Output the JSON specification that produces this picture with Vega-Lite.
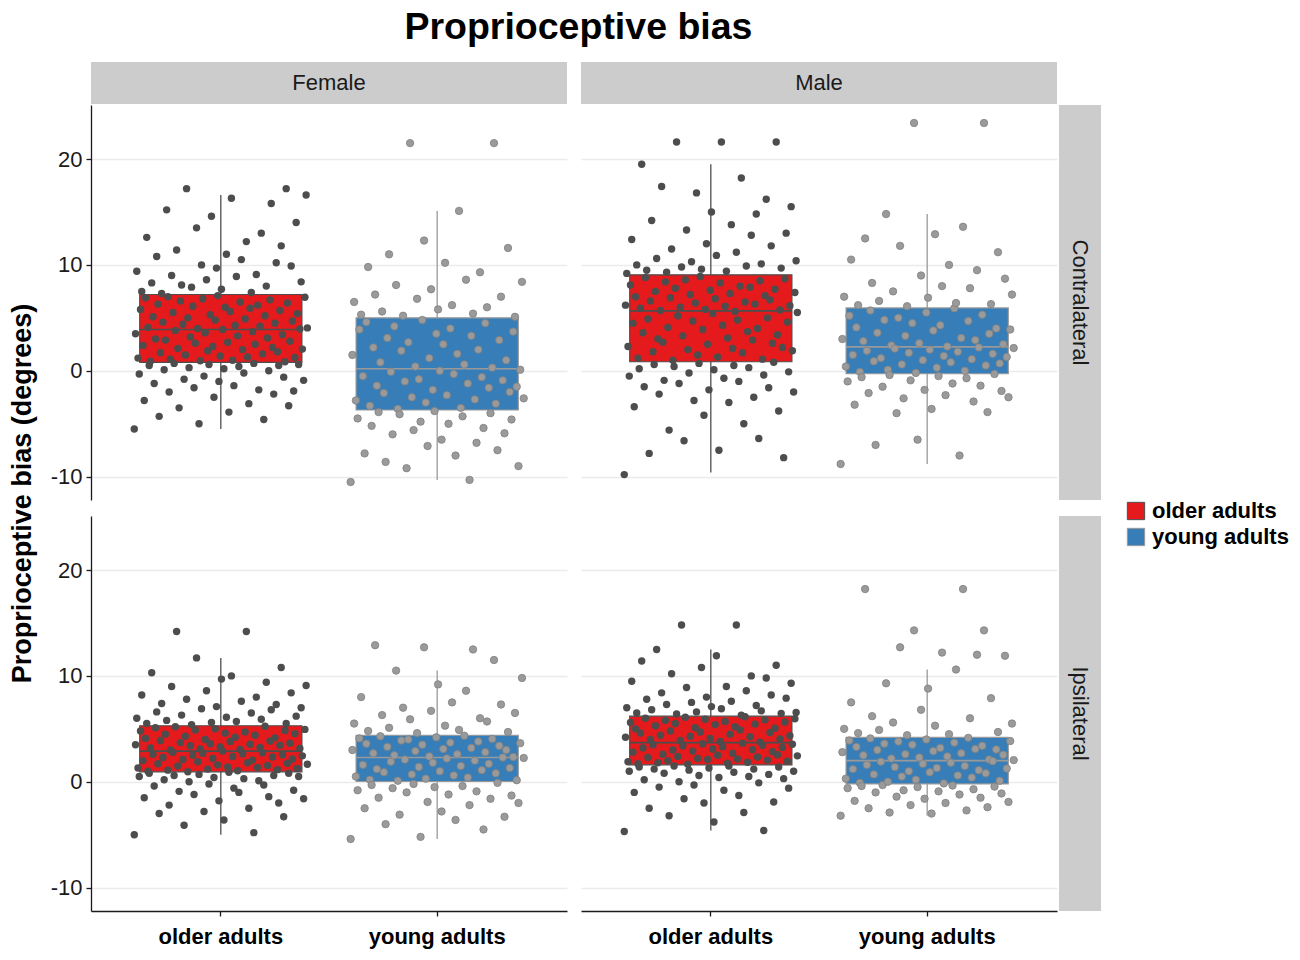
{
  "$schema": "https://vega.github.io/schema/vega-lite/v6.json",
  "description": "Proprioceptive bias by age group, sex and side",
  "background": "white",
  "padding": {"left": 8, "top": 9, "right": 5, "bottom": 5},
  "title": {"text": "Proprioceptive bias", "fontSize": 37.5, "fontWeight": "bold", "color": "#000000", "anchor": "middle", "frame": "bounds", "dx": -70, "offset": 15.5},
  "datasets": {
    "boxes": [
      {"sex": "Female", "side": "Contralateral", "group": "older adults", "lower": -5.5, "q1": 0.8, "median": 3.9, "q3": 7.2, "upper": 16.6},
      {"sex": "Female", "side": "Contralateral", "group": "young adults", "lower": -10.3, "q1": -3.7, "median": 0.2, "q3": 5.0, "upper": 15.1},
      {"sex": "Male", "side": "Contralateral", "group": "older adults", "lower": -9.6, "q1": 0.85, "median": 5.66, "q3": 9.06, "upper": 19.5},
      {"sex": "Male", "side": "Contralateral", "group": "young adults", "lower": -8.8, "q1": -0.28, "median": 2.26, "q3": 5.94, "upper": 14.8},
      {"sex": "Female", "side": "Ipsilateral", "group": "older adults", "lower": -5.0, "q1": 0.94, "median": 2.9, "q3": 5.3, "upper": 11.7},
      {"sex": "Female", "side": "Ipsilateral", "group": "young adults", "lower": -5.4, "q1": 0.03, "median": 2.3, "q3": 4.4, "upper": 10.5},
      {"sex": "Male", "side": "Ipsilateral", "group": "older adults", "lower": -4.6, "q1": 1.6, "median": 3.7, "q3": 6.2, "upper": 12.5},
      {"sex": "Male", "side": "Ipsilateral", "group": "young adults", "lower": -3.2, "q1": -0.2, "median": 2.0, "q3": 4.2, "upper": 10.6}
    ],
    "fc_older": [
      {"bias": -5.5}, {"bias": 3.5}, {"bias": 9.4}, {"bias": 1.2}, {"bias": -0.3}, {"bias": 5.8}, {"bias": 7.5}, {"bias": 2.4},
      {"bias": -2.8}, {"bias": 6.9}, {"bias": 12.6}, {"bias": 4.1}, {"bias": 0.5}, {"bias": 0.9}, {"bias": 8.3}, {"bias": 5.1},
      {"bias": -1.2}, {"bias": 3.0}, {"bias": 10.8}, {"bias": 6.3}, {"bias": -4.3}, {"bias": 1.7}, {"bias": 7.3}, {"bias": 4.6},
      {"bias": 0.1}, {"bias": 2.9}, {"bias": 15.2}, {"bias": 7.0}, {"bias": -2.0}, {"bias": 1.1}, {"bias": 9.0}, {"bias": 5.5},
      {"bias": 0.7}, {"bias": 3.8}, {"bias": 11.4}, {"bias": 2.1}, {"bias": -3.5}, {"bias": 6.6}, {"bias": 8.1}, {"bias": 4.4},
      {"bias": -0.8}, {"bias": 1.5}, {"bias": 17.2}, {"bias": 5.0}, {"bias": 0.3}, {"bias": 3.2}, {"bias": 7.9}, {"bias": 6.1},
      {"bias": -1.6}, {"bias": 2.6}, {"bias": 13.5}, {"bias": 4.0}, {"bias": -5.0}, {"bias": 0.95}, {"bias": 10.0}, {"bias": 6.8},
      {"bias": -0.5}, {"bias": 3.6}, {"bias": 8.6}, {"bias": 1.9}, {"bias": 0.6}, {"bias": 5.3}, {"bias": 14.6}, {"bias": 2.3},
      {"bias": -2.5}, {"bias": 4.8}, {"bias": 9.7}, {"bias": 7.1}, {"bias": -1.0}, {"bias": 1.4}, {"bias": 7.7}, {"bias": 3.9},
      {"bias": 0.2}, {"bias": 6.0}, {"bias": 11.0}, {"bias": 2.7}, {"bias": -3.9}, {"bias": 5.6}, {"bias": 16.3}, {"bias": 1.0},
      {"bias": -1.4}, {"bias": 4.3}, {"bias": 8.9}, {"bias": 3.3}, {"bias": 0.4}, {"bias": 6.5}, {"bias": 10.5}, {"bias": 2.0},
      {"bias": -0.2}, {"bias": 4.9}, {"bias": 12.2}, {"bias": 1.3}, {"bias": -3.1}, {"bias": 5.9}, {"bias": 7.4}, {"bias": 3.7},
      {"bias": 0.7}, {"bias": 2.5}, {"bias": 9.1}, {"bias": 6.2}, {"bias": -1.8}, {"bias": 4.2}, {"bias": 13.0}, {"bias": 1.6},
      {"bias": -4.6}, {"bias": 5.2}, {"bias": 8.0}, {"bias": 3.1}, {"bias": 0.0}, {"bias": 6.7}, {"bias": 15.8}, {"bias": 2.2},
      {"bias": -2.2}, {"bias": 4.5}, {"bias": 10.2}, {"bias": 1.8}, {"bias": 0.5}, {"bias": 5.7}, {"bias": 11.8}, {"bias": 3.4},
      {"bias": -0.6}, {"bias": 0.85}, {"bias": 17.2}, {"bias": 6.4}, {"bias": -3.3}, {"bias": 2.8}, {"bias": 9.9}, {"bias": 4.7},
      {"bias": -1.9}, {"bias": 1.25}, {"bias": 14.0}, {"bias": 5.4}, {"bias": 0.6}, {"bias": 3.95}, {"bias": 8.4}, {"bias": 2.05},
      {"bias": -0.9}, {"bias": 6.95}, {"bias": 16.6}, {"bias": 4.05}
    ],
    "fc_young": [
      {"bias": -10.5}, {"bias": 1.5}, {"bias": 6.5}, {"bias": -2.8}, {"bias": -4.5}, {"bias": 3.9}, {"bias": 5.3}, {"bias": -0.5},
      {"bias": -7.8}, {"bias": 4.6}, {"bias": 9.8}, {"bias": -3.3}, {"bias": -5.2}, {"bias": 2.2}, {"bias": 7.2}, {"bias": -1.4},
      {"bias": -3.9}, {"bias": 0.8}, {"bias": 5.6}, {"bias": -2.1}, {"bias": -8.6}, {"bias": 3.1}, {"bias": 11.0}, {"bias": -0.1},
      {"bias": -6.0}, {"bias": 4.2}, {"bias": 8.1}, {"bias": -3.6}, {"bias": -4.1}, {"bias": 1.9}, {"bias": 5.2}, {"bias": -1.0},
      {"bias": -9.2}, {"bias": 2.7}, {"bias": 21.5}, {"bias": -2.5}, {"bias": -5.6}, {"bias": 0.4}, {"bias": 6.8}, {"bias": -0.8},
      {"bias": -4.8}, {"bias": 4.8}, {"bias": 12.3}, {"bias": -3.0}, {"bias": -7.1}, {"bias": 1.2}, {"bias": 7.7}, {"bias": -1.8},
      {"bias": -3.8}, {"bias": 3.5}, {"bias": 5.8}, {"bias": 0.0}, {"bias": -6.5}, {"bias": 2.5}, {"bias": 10.2}, {"bias": -2.3},
      {"bias": -5.0}, {"bias": 4.0}, {"bias": 6.2}, {"bias": -0.3}, {"bias": -8.0}, {"bias": 1.6}, {"bias": 15.1}, {"bias": -3.5},
      {"bias": -4.3}, {"bias": 0.6}, {"bias": 8.6}, {"bias": -1.2}, {"bias": -10.3}, {"bias": 3.3}, {"bias": 5.4}, {"bias": -2.7},
      {"bias": -6.8}, {"bias": 2.0}, {"bias": 9.3}, {"bias": -0.6}, {"bias": -5.4}, {"bias": 4.5}, {"bias": 6.0}, {"bias": -1.6},
      {"bias": -4.0}, {"bias": 0.3}, {"bias": 21.5}, {"bias": -3.1}, {"bias": -7.5}, {"bias": 2.9}, {"bias": 7.0}, {"bias": -0.9},
      {"bias": -5.9}, {"bias": 1.0}, {"bias": 11.6}, {"bias": -2.0}, {"bias": -4.6}, {"bias": 3.7}, {"bias": 5.1}, {"bias": -1.5},
      {"bias": -9.0}, {"bias": 0.1}, {"bias": 8.4}, {"bias": -2.6}
    ],
    "mc_older": [
      {"bias": -9.8}, {"bias": 6.2}, {"bias": 9.2}, {"bias": 2.3}, {"bias": -0.5}, {"bias": 8.1}, {"bias": 12.4}, {"bias": 4.5},
      {"bias": -3.4}, {"bias": 7.0}, {"bias": 10.0}, {"bias": 1.2}, {"bias": 0.2}, {"bias": 5.9}, {"bias": 19.5}, {"bias": 3.6},
      {"bias": -1.5}, {"bias": 8.8}, {"bias": 9.5}, {"bias": 4.9}, {"bias": -7.8}, {"bias": 6.6}, {"bias": 14.2}, {"bias": 1.8},
      {"bias": 0.6}, {"bias": 7.5}, {"bias": 10.6}, {"bias": 3.0}, {"bias": -2.2}, {"bias": 5.7}, {"bias": 17.4}, {"bias": 2.7},
      {"bias": -0.9}, {"bias": 8.4}, {"bias": 9.3}, {"bias": 4.1}, {"bias": -5.6}, {"bias": 6.9}, {"bias": 11.5}, {"bias": 1.0},
      {"bias": 0.4}, {"bias": 7.8}, {"bias": 21.6}, {"bias": 5.2}, {"bias": -1.2}, {"bias": 6.0}, {"bias": 9.8}, {"bias": 3.3},
      {"bias": -6.6}, {"bias": 8.6}, {"bias": 13.3}, {"bias": 2.0}, {"bias": -0.2}, {"bias": 7.2}, {"bias": 10.3}, {"bias": 4.7},
      {"bias": -2.8}, {"bias": 6.4}, {"bias": 16.8}, {"bias": 1.5}, {"bias": 0.7}, {"bias": 8.9}, {"bias": 9.6}, {"bias": 3.9},
      {"bias": -4.2}, {"bias": 5.8}, {"bias": 12.0}, {"bias": 2.5}, {"bias": -1.8}, {"bias": 7.6}, {"bias": 15.0}, {"bias": 5.4},
      {"bias": 0.1}, {"bias": 6.8}, {"bias": 10.9}, {"bias": 1.3}, {"bias": -7.5}, {"bias": 8.3}, {"bias": 21.6}, {"bias": 4.3},
      {"bias": -0.7}, {"bias": 6.1}, {"bias": 9.4}, {"bias": 3.1}, {"bias": -3.0}, {"bias": 7.3}, {"bias": 13.8}, {"bias": 2.1},
      {"bias": 0.5}, {"bias": 5.6}, {"bias": 11.2}, {"bias": 4.8}, {"bias": -1.0}, {"bias": 8.0}, {"bias": 18.2}, {"bias": 1.7},
      {"bias": -5.0}, {"bias": 6.5}, {"bias": 9.9}, {"bias": 3.7}, {"bias": 0.3}, {"bias": 7.9}, {"bias": 12.8}, {"bias": 2.9},
      {"bias": -2.5}, {"bias": 6.3}, {"bias": 14.8}, {"bias": 4.0}, {"bias": -6.4}, {"bias": 8.5}, {"bias": 10.1}, {"bias": 1.1},
      {"bias": -0.4}, {"bias": 7.1}, {"bias": 16.2}, {"bias": 5.0}, {"bias": -1.6}, {"bias": 6.7}, {"bias": 11.8}, {"bias": 2.6},
      {"bias": 0.8}, {"bias": 7.7}, {"bias": 21.6}, {"bias": 3.4}, {"bias": -3.8}, {"bias": 5.75}, {"bias": 9.7}, {"bias": 2.2},
      {"bias": -8.2}, {"bias": 8.7}, {"bias": 13.0}, {"bias": 4.6}, {"bias": -0.1}, {"bias": 6.15}, {"bias": 15.5}, {"bias": 1.9},
      {"bias": -2.0}, {"bias": 7.4}, {"bias": 10.4}, {"bias": 5.5}
    ],
    "mc_young": [
      {"bias": -8.8}, {"bias": 3.0}, {"bias": 7.0}, {"bias": 0.4}, {"bias": -1.0}, {"bias": 5.2}, {"bias": 10.5}, {"bias": 1.5},
      {"bias": -3.2}, {"bias": 4.1}, {"bias": 6.2}, {"bias": -0.1}, {"bias": -0.6}, {"bias": 2.8}, {"bias": 12.5}, {"bias": 1.9},
      {"bias": -2.1}, {"bias": 5.7}, {"bias": 8.3}, {"bias": 0.9}, {"bias": -7.0}, {"bias": 3.6}, {"bias": 6.6}, {"bias": 1.2},
      {"bias": -1.5}, {"bias": 4.8}, {"bias": 14.8}, {"bias": 0.1}, {"bias": -0.4}, {"bias": 2.4}, {"bias": 7.5}, {"bias": 2.1},
      {"bias": -4.0}, {"bias": 5.0}, {"bias": 11.8}, {"bias": 0.6}, {"bias": -2.6}, {"bias": 3.3}, {"bias": 6.1}, {"bias": 1.7},
      {"bias": -0.9}, {"bias": 4.5}, {"bias": 23.4}, {"bias": -0.2}, {"bias": -6.5}, {"bias": 2.6}, {"bias": 9.0}, {"bias": 1.0},
      {"bias": -1.8}, {"bias": 5.5}, {"bias": 6.9}, {"bias": 2.0}, {"bias": -3.6}, {"bias": 3.8}, {"bias": 12.9}, {"bias": 0.3},
      {"bias": -0.5}, {"bias": 4.3}, {"bias": 8.0}, {"bias": 1.4}, {"bias": -2.3}, {"bias": 2.3}, {"bias": 10.0}, {"bias": 0.8},
      {"bias": -1.2}, {"bias": 5.9}, {"bias": 6.4}, {"bias": 1.8}, {"bias": -8.0}, {"bias": 3.1}, {"bias": 13.6}, {"bias": 0.0},
      {"bias": -0.7}, {"bias": 4.7}, {"bias": 7.8}, {"bias": 1.1}, {"bias": -2.9}, {"bias": 2.9}, {"bias": 9.5}, {"bias": 2.2},
      {"bias": -1.4}, {"bias": 5.3}, {"bias": 23.4}, {"bias": 0.5}, {"bias": -3.9}, {"bias": 3.5}, {"bias": 6.3}, {"bias": 1.6},
      {"bias": -0.3}, {"bias": 4.0}, {"bias": 11.2}, {"bias": 0.7}, {"bias": -1.9}, {"bias": 2.5}, {"bias": 8.7}, {"bias": 1.3},
      {"bias": -2.5}, {"bias": 3.9}, {"bias": 7.2}, {"bias": 2.15}
    ],
    "fi_older": [
      {"bias": -5.0}, {"bias": 3.5}, {"bias": 6.0}, {"bias": 1.3}, {"bias": 0.5}, {"bias": 4.8}, {"bias": 8.2}, {"bias": 2.0},
      {"bias": -1.5}, {"bias": 4.1}, {"bias": 5.5}, {"bias": 1.0}, {"bias": 0.8}, {"bias": 3.2}, {"bias": 10.3}, {"bias": 2.6},
      {"bias": -0.4}, {"bias": 5.1}, {"bias": 6.6}, {"bias": 1.7}, {"bias": -3.0}, {"bias": 3.9}, {"bias": 7.4}, {"bias": 2.3},
      {"bias": 0.2}, {"bias": 4.5}, {"bias": 5.8}, {"bias": 1.1}, {"bias": -2.2}, {"bias": 3.0}, {"bias": 9.0}, {"bias": 2.8},
      {"bias": 0.6}, {"bias": 5.2}, {"bias": 14.2}, {"bias": 1.5}, {"bias": -0.9}, {"bias": 3.7}, {"bias": 6.3}, {"bias": 2.1},
      {"bias": -4.1}, {"bias": 4.3}, {"bias": 7.8}, {"bias": 0.95}, {"bias": 0.0}, {"bias": 3.4}, {"bias": 5.4}, {"bias": 2.5},
      {"bias": -1.2}, {"bias": 4.9}, {"bias": 11.7}, {"bias": 1.9}, {"bias": 0.7}, {"bias": 3.1}, {"bias": 6.9}, {"bias": 2.7},
      {"bias": -2.8}, {"bias": 4.0}, {"bias": 8.6}, {"bias": 1.2}, {"bias": -0.2}, {"bias": 3.6}, {"bias": 5.6}, {"bias": 2.2},
      {"bias": 0.4}, {"bias": 5.0}, {"bias": 7.1}, {"bias": 1.6}, {"bias": -1.8}, {"bias": 3.3}, {"bias": 9.7}, {"bias": 2.9},
      {"bias": -3.6}, {"bias": 4.6}, {"bias": 6.1}, {"bias": 1.4}, {"bias": 0.9}, {"bias": 3.8}, {"bias": 10.0}, {"bias": 2.4},
      {"bias": -0.6}, {"bias": 4.2}, {"bias": 5.7}, {"bias": 1.05}, {"bias": -1.0}, {"bias": 3.05}, {"bias": 7.6}, {"bias": 2.65},
      {"bias": 0.3}, {"bias": 4.7}, {"bias": 14.2}, {"bias": 1.8}, {"bias": -2.5}, {"bias": 3.55}, {"bias": 6.5}, {"bias": 2.05},
      {"bias": -4.8}, {"bias": 4.4}, {"bias": 8.0}, {"bias": 1.35}, {"bias": 0.1}, {"bias": 3.25}, {"bias": 5.9}, {"bias": 2.75},
      {"bias": -0.3}, {"bias": 5.25}, {"bias": 9.4}, {"bias": 1.55}, {"bias": -1.4}, {"bias": 3.85}, {"bias": 6.8}, {"bias": 2.35},
      {"bias": 0.6}, {"bias": 4.15}, {"bias": 7.3}, {"bias": 1.15}, {"bias": -2.0}, {"bias": 3.45}, {"bias": 10.8}, {"bias": 2.55},
      {"bias": -3.3}, {"bias": 4.85}, {"bias": 5.5}, {"bias": 1.75}, {"bias": 0.8}, {"bias": 3.65}, {"bias": 8.4}, {"bias": 2.15},
      {"bias": -0.8}, {"bias": 4.55}, {"bias": 6.2}, {"bias": 1.25}, {"bias": 0.5}, {"bias": 3.15}, {"bias": 7.0}, {"bias": 2.45},
      {"bias": -1.6}, {"bias": 4.95}, {"bias": 9.1}, {"bias": 1.65}
    ],
    "fi_young": [
      {"bias": -5.4}, {"bias": 3.0}, {"bias": 5.5}, {"bias": 0.5}, {"bias": -0.8}, {"bias": 4.1}, {"bias": 8.0}, {"bias": 1.6},
      {"bias": -2.5}, {"bias": 3.6}, {"bias": 4.8}, {"bias": 0.2}, {"bias": -0.3}, {"bias": 2.7}, {"bias": 12.9}, {"bias": 1.2},
      {"bias": -1.5}, {"bias": 4.3}, {"bias": 6.3}, {"bias": 0.9}, {"bias": -4.0}, {"bias": 3.3}, {"bias": 5.1}, {"bias": 1.9},
      {"bias": -0.6}, {"bias": 2.5}, {"bias": 10.5}, {"bias": 0.1}, {"bias": -3.1}, {"bias": 3.9}, {"bias": 7.0}, {"bias": 2.1},
      {"bias": -1.0}, {"bias": 4.0}, {"bias": 5.9}, {"bias": 0.7}, {"bias": -0.2}, {"bias": 2.9}, {"bias": 4.6}, {"bias": 1.4},
      {"bias": -5.2}, {"bias": 3.5}, {"bias": 12.7}, {"bias": 0.3}, {"bias": -1.9}, {"bias": 2.4}, {"bias": 6.7}, {"bias": 1.8},
      {"bias": -0.5}, {"bias": 4.2}, {"bias": 9.2}, {"bias": 1.0}, {"bias": -2.8}, {"bias": 3.1}, {"bias": 5.3}, {"bias": 2.2},
      {"bias": -1.2}, {"bias": 3.7}, {"bias": 7.5}, {"bias": 0.6}, {"bias": -3.6}, {"bias": 2.6}, {"bias": 4.9}, {"bias": 1.5},
      {"bias": -0.4}, {"bias": 4.35}, {"bias": 8.6}, {"bias": 0.4}, {"bias": -2.2}, {"bias": 3.2}, {"bias": 12.5}, {"bias": 2.0},
      {"bias": -0.9}, {"bias": 3.8}, {"bias": 6.0}, {"bias": 1.1}, {"bias": -4.5}, {"bias": 2.8}, {"bias": 5.7}, {"bias": 1.7},
      {"bias": -1.6}, {"bias": 4.05}, {"bias": 11.5}, {"bias": 0.8}, {"bias": -0.1}, {"bias": 3.4}, {"bias": 7.3}, {"bias": 2.3},
      {"bias": -3.3}, {"bias": 3.0}, {"bias": 4.7}, {"bias": 1.3}, {"bias": -1.3}, {"bias": 2.35}, {"bias": 6.5}, {"bias": 0.15},
      {"bias": -2.0}, {"bias": 3.65}, {"bias": 9.8}, {"bias": 2.25}
    ],
    "mi_older": [
      {"bias": -4.7}, {"bias": 4.2}, {"bias": 7.0}, {"bias": 1.9}, {"bias": 1.0}, {"bias": 5.6}, {"bias": 9.5}, {"bias": 2.8},
      {"bias": -1.0}, {"bias": 5.0}, {"bias": 6.5}, {"bias": 1.7}, {"bias": 1.4}, {"bias": 4.6}, {"bias": 11.4}, {"bias": 3.2},
      {"bias": 0.2}, {"bias": 6.0}, {"bias": 7.8}, {"bias": 2.3}, {"bias": -2.5}, {"bias": 4.0}, {"bias": 6.8}, {"bias": 3.5},
      {"bias": 1.2}, {"bias": 5.3}, {"bias": 12.5}, {"bias": 1.8}, {"bias": -0.5}, {"bias": 4.4}, {"bias": 8.4}, {"bias": 2.6},
      {"bias": 0.8}, {"bias": 5.8}, {"bias": 7.3}, {"bias": 2.0}, {"bias": -3.2}, {"bias": 4.8}, {"bias": 10.2}, {"bias": 3.0},
      {"bias": 1.5}, {"bias": 5.5}, {"bias": 6.4}, {"bias": 2.4}, {"bias": 0.0}, {"bias": 3.9}, {"bias": 14.8}, {"bias": 3.4},
      {"bias": -1.6}, {"bias": 6.1}, {"bias": 8.9}, {"bias": 1.65}, {"bias": 1.1}, {"bias": 4.3}, {"bias": 7.5}, {"bias": 2.9},
      {"bias": -0.3}, {"bias": 5.1}, {"bias": 6.6}, {"bias": 2.2}, {"bias": 0.6}, {"bias": 4.7}, {"bias": 10.8}, {"bias": 3.6},
      {"bias": -2.0}, {"bias": 5.9}, {"bias": 8.0}, {"bias": 2.1}, {"bias": 1.3}, {"bias": 4.1}, {"bias": 7.1}, {"bias": 3.1},
      {"bias": -3.8}, {"bias": 5.4}, {"bias": 11.9}, {"bias": 2.5}, {"bias": 0.4}, {"bias": 3.8}, {"bias": 6.9}, {"bias": 3.3},
      {"bias": -0.8}, {"bias": 5.7}, {"bias": 9.0}, {"bias": 1.75}, {"bias": 1.5}, {"bias": 4.5}, {"bias": 7.6}, {"bias": 2.7},
      {"bias": 0.9}, {"bias": 5.2}, {"bias": 14.8}, {"bias": 2.15}, {"bias": -1.3}, {"bias": 4.9}, {"bias": 6.3}, {"bias": 3.65},
      {"bias": -2.9}, {"bias": 6.15}, {"bias": 8.6}, {"bias": 1.85}, {"bias": 0.5}, {"bias": 4.25}, {"bias": 10.0}, {"bias": 3.05},
      {"bias": 1.2}, {"bias": 5.45}, {"bias": 7.2}, {"bias": 2.35}, {"bias": -0.1}, {"bias": 3.75}, {"bias": 6.7}, {"bias": 3.45},
      {"bias": -4.6}, {"bias": 5.85}, {"bias": 9.8}, {"bias": 2.05}, {"bias": 0.7}, {"bias": 4.65}, {"bias": 8.2}, {"bias": 2.85},
      {"bias": -1.9}, {"bias": 5.05}, {"bias": 11.0}, {"bias": 2.55}, {"bias": 1.4}, {"bias": 4.05}, {"bias": 6.45}, {"bias": 3.25},
      {"bias": 0.3}, {"bias": 5.65}, {"bias": 7.9}, {"bias": 1.95}, {"bias": -0.6}, {"bias": 4.35}, {"bias": 9.3}, {"bias": 3.55},
      {"bias": 1.0}, {"bias": 5.95}, {"bias": 6.55}, {"bias": 2.45}
    ],
    "mi_young": [
      {"bias": -3.2}, {"bias": 2.8}, {"bias": 5.0}, {"bias": 0.3}, {"bias": -0.6}, {"bias": 3.9}, {"bias": 7.5}, {"bias": 1.2},
      {"bias": -1.8}, {"bias": 3.3}, {"bias": 4.6}, {"bias": -0.1}, {"bias": -0.4}, {"bias": 2.5}, {"bias": 18.2}, {"bias": 1.6},
      {"bias": -2.5}, {"bias": 4.1}, {"bias": 6.2}, {"bias": 0.7}, {"bias": -1.0}, {"bias": 3.0}, {"bias": 4.9}, {"bias": 1.9},
      {"bias": -0.3}, {"bias": 3.6}, {"bias": 9.3}, {"bias": 0.0}, {"bias": -2.9}, {"bias": 2.2}, {"bias": 5.6}, {"bias": 1.4},
      {"bias": -1.4}, {"bias": 3.8}, {"bias": 12.7}, {"bias": 0.5}, {"bias": -0.8}, {"bias": 2.6}, {"bias": 4.4}, {"bias": 1.0},
      {"bias": -2.2}, {"bias": 3.5}, {"bias": 14.3}, {"bias": 0.2}, {"bias": -0.5}, {"bias": 2.3}, {"bias": 6.8}, {"bias": 1.7},
      {"bias": -1.6}, {"bias": 4.0}, {"bias": 8.8}, {"bias": 0.9}, {"bias": -3.0}, {"bias": 2.9}, {"bias": 5.3}, {"bias": 1.3},
      {"bias": -0.9}, {"bias": 3.2}, {"bias": 12.2}, {"bias": -0.15}, {"bias": -2.0}, {"bias": 2.4}, {"bias": 4.5}, {"bias": 1.8},
      {"bias": -0.35}, {"bias": 3.7}, {"bias": 10.6}, {"bias": 0.6}, {"bias": -1.2}, {"bias": 2.7}, {"bias": 18.2}, {"bias": 1.5},
      {"bias": -2.7}, {"bias": 4.15}, {"bias": 6.0}, {"bias": 0.4}, {"bias": -0.7}, {"bias": 3.1}, {"bias": 12.0}, {"bias": 1.1},
      {"bias": -1.5}, {"bias": 3.4}, {"bias": 14.3}, {"bias": 0.8}, {"bias": -2.4}, {"bias": 2.1}, {"bias": 7.9}, {"bias": 1.95},
      {"bias": -0.45}, {"bias": 3.05}, {"bias": 4.7}, {"bias": 0.1}, {"bias": -1.1}, {"bias": 2.55}, {"bias": 11.9}, {"bias": 1.25},
      {"bias": -1.9}, {"bias": 3.85}, {"bias": 5.5}, {"bias": 2.05}
    ]
  },
  "vconcat": [
    {
      "hconcat": [
        {
          "width": 476, "height": 42,
          "view": {"fill": "#CCCCCC", "stroke": null},
          "data": {"values": [{"label": "Female"}]},
          "mark": {"type": "text", "fontSize": 22, "color": "#1A1A1A"},
          "encoding": {"text": {"field": "label", "type": "nominal"}}
        },
        {
          "width": 476, "height": 42,
          "view": {"fill": "#CCCCCC", "stroke": null},
          "data": {"values": [{"label": "Male"}]},
          "mark": {"type": "text", "fontSize": 22, "color": "#1A1A1A"},
          "encoding": {"text": {"field": "label", "type": "nominal"}}
        }
      ],
      "spacing": 14
    },
    {
      "hconcat": [
        {
          "hconcat": [
            {
              "concat": [
                {
                  "width": 476, "height": 395,
                  "layer": [
                    {
                      "data": {"name": "boxes"},
                      "transform": [{"filter": "datum.sex == 'Female' && datum.side == 'Contralateral'"}],
                      "layer": [
                        {"mark": {"type": "rule", "strokeWidth": 1.3},
                         "encoding": {"y": {"field": "lower", "type": "quantitative", "scale": {"domain": [-12.2, 25.1], "nice": false, "zero": false}, "axis": {"title": "Proprioceptive bias (degrees)", "values": [-10, 0, 10, 20], "labelExpr": "datum.value + ''", "titleFontSize": 27, "titleFontWeight": "bold", "titleColor": "#000000", "titleAngle": 270, "titleX": -69, "titleY": 388, "titleAlign": "center", "titleBaseline": "middle"}}, "y2": {"field": "upper"}}},
                        {"mark": {"type": "bar", "width": {"band": 0.9375}, "strokeWidth": 1.1},
                         "encoding": {"y": {"field": "q1", "type": "quantitative", "scale": {"domain": [-12.2, 25.1], "nice": false, "zero": false}, "axis": {"title": "Proprioceptive bias (degrees)", "values": [-10, 0, 10, 20], "labelExpr": "datum.value + ''", "titleFontSize": 27, "titleFontWeight": "bold", "titleColor": "#000000", "titleAngle": 270, "titleX": -69, "titleY": 388, "titleAlign": "center", "titleBaseline": "middle"}}, "y2": {"field": "q3"},
                          "fill": {"field": "group", "type": "nominal", "scale": {"domain": ["older adults", "young adults"], "range": ["#E41A1C", "#377EB8"]}, "legend": null}}},
                        {"mark": {"type": "bar", "width": {"band": 0.9375}, "fill": "transparent", "strokeWidth": 1.6},
                         "encoding": {"y": {"field": "median", "type": "quantitative", "scale": {"domain": [-12.2, 25.1], "nice": false, "zero": false}, "axis": {"title": "Proprioceptive bias (degrees)", "values": [-10, 0, 10, 20], "labelExpr": "datum.value + ''", "titleFontSize": 27, "titleFontWeight": "bold", "titleColor": "#000000", "titleAngle": 270, "titleX": -69, "titleY": 388, "titleAlign": "center", "titleBaseline": "middle"}}, "y2": {"field": "median"}}}
                      ],
                      "encoding": {
                        "x": {"field": "group", "type": "nominal", "scale": {"domain": ["older adults", "young adults"], "paddingInner": 0.2, "paddingOuter": 0.2}, "axis": null},
                        "stroke": {"field": "group", "type": "nominal", "scale": {"domain": ["older adults", "young adults"], "range": ["#4D4D4D", "#999999"]}, "legend": null}
                      }
                    },
                    {
                      "data": {"name": "fc_older"},
                      "transform": [{"window": [{"op": "row_number", "as": "order"}]}],
                      "mark": {"type": "circle", "size": 55, "color": "#4D4D4D", "opacity": 1},
                      "encoding": {
                        "x": {"datum": "older adults", "type": "nominal", "scale": {"domain": ["older adults", "young adults"], "paddingInner": 0.2, "paddingOuter": 0.2}, "axis": null},
                        "xOffset": {"field": "order", "type": "quantitative", "scale": {"zero": false, "nice": false}},
                        "y": {"field": "bias", "type": "quantitative", "scale": {"domain": [-12.2, 25.1], "nice": false, "zero": false}, "axis": {"title": "Proprioceptive bias (degrees)", "values": [-10, 0, 10, 20], "labelExpr": "datum.value + ''", "titleFontSize": 27, "titleFontWeight": "bold", "titleColor": "#000000", "titleAngle": 270, "titleX": -69, "titleY": 388, "titleAlign": "center", "titleBaseline": "middle"}}
                      }
                    },
                    {
                      "data": {"name": "fc_young"},
                      "transform": [{"window": [{"op": "row_number", "as": "order"}]}],
                      "mark": {"type": "circle", "size": 55, "fill": "#9A9A9A", "stroke": "#808080", "strokeWidth": 0.8, "opacity": 1},
                      "encoding": {
                        "x": {"datum": "young adults", "type": "nominal", "scale": {"domain": ["older adults", "young adults"], "paddingInner": 0.2, "paddingOuter": 0.2}, "axis": null},
                        "xOffset": {"field": "order", "type": "quantitative", "scale": {"zero": false, "nice": false}},
                        "y": {"field": "bias", "type": "quantitative", "scale": {"domain": [-12.2, 25.1], "nice": false, "zero": false}, "axis": {"title": "Proprioceptive bias (degrees)", "values": [-10, 0, 10, 20], "labelExpr": "datum.value + ''", "titleFontSize": 27, "titleFontWeight": "bold", "titleColor": "#000000", "titleAngle": 270, "titleX": -69, "titleY": 388, "titleAlign": "center", "titleBaseline": "middle"}}
                      }
                    }
                  ],
                  "resolve": {"scale": {"xOffset": "independent"}}
                },
                {
                  "width": 476, "height": 395,
                  "layer": [
                    {
                      "data": {"name": "boxes"},
                      "transform": [{"filter": "datum.sex == 'Male' && datum.side == 'Contralateral'"}],
                      "layer": [
                        {"mark": {"type": "rule", "strokeWidth": 1.3},
                         "encoding": {"y": {"field": "lower", "type": "quantitative", "scale": {"domain": [-12.2, 25.1], "nice": false, "zero": false}, "axis": {"title": null, "values": [-10, 0, 10, 20], "labels": false, "ticks": false, "domain": false}}, "y2": {"field": "upper"}}},
                        {"mark": {"type": "bar", "width": {"band": 0.9375}, "strokeWidth": 1.1},
                         "encoding": {"y": {"field": "q1", "type": "quantitative", "scale": {"domain": [-12.2, 25.1], "nice": false, "zero": false}, "axis": {"title": null, "values": [-10, 0, 10, 20], "labels": false, "ticks": false, "domain": false}}, "y2": {"field": "q3"},
                          "fill": {"field": "group", "type": "nominal", "scale": {"domain": ["older adults", "young adults"], "range": ["#E41A1C", "#377EB8"]}, "legend": null}}},
                        {"mark": {"type": "bar", "width": {"band": 0.9375}, "fill": "transparent", "strokeWidth": 1.6},
                         "encoding": {"y": {"field": "median", "type": "quantitative", "scale": {"domain": [-12.2, 25.1], "nice": false, "zero": false}, "axis": {"title": null, "values": [-10, 0, 10, 20], "labels": false, "ticks": false, "domain": false}}, "y2": {"field": "median"}}}
                      ],
                      "encoding": {
                        "x": {"field": "group", "type": "nominal", "scale": {"domain": ["older adults", "young adults"], "paddingInner": 0.2, "paddingOuter": 0.2}, "axis": null},
                        "stroke": {"field": "group", "type": "nominal", "scale": {"domain": ["older adults", "young adults"], "range": ["#4D4D4D", "#999999"]}, "legend": null}
                      }
                    },
                    {
                      "data": {"name": "mc_older"},
                      "transform": [{"window": [{"op": "row_number", "as": "order"}]}],
                      "mark": {"type": "circle", "size": 55, "color": "#4D4D4D", "opacity": 1},
                      "encoding": {
                        "x": {"datum": "older adults", "type": "nominal", "scale": {"domain": ["older adults", "young adults"], "paddingInner": 0.2, "paddingOuter": 0.2}, "axis": null},
                        "xOffset": {"field": "order", "type": "quantitative", "scale": {"zero": false, "nice": false}},
                        "y": {"field": "bias", "type": "quantitative", "scale": {"domain": [-12.2, 25.1], "nice": false, "zero": false}, "axis": {"title": null, "values": [-10, 0, 10, 20], "labels": false, "ticks": false, "domain": false}}
                      }
                    },
                    {
                      "data": {"name": "mc_young"},
                      "transform": [{"window": [{"op": "row_number", "as": "order"}]}],
                      "mark": {"type": "circle", "size": 55, "fill": "#9A9A9A", "stroke": "#808080", "strokeWidth": 0.8, "opacity": 1},
                      "encoding": {
                        "x": {"datum": "young adults", "type": "nominal", "scale": {"domain": ["older adults", "young adults"], "paddingInner": 0.2, "paddingOuter": 0.2}, "axis": null},
                        "xOffset": {"field": "order", "type": "quantitative", "scale": {"zero": false, "nice": false}},
                        "y": {"field": "bias", "type": "quantitative", "scale": {"domain": [-12.2, 25.1], "nice": false, "zero": false}, "axis": {"title": null, "values": [-10, 0, 10, 20], "labels": false, "ticks": false, "domain": false}}
                      }
                    }
                  ],
                  "resolve": {"scale": {"xOffset": "independent"}}
                },
                {
                  "width": 476, "height": 395,
                  "layer": [
                    {
                      "data": {"name": "boxes"},
                      "transform": [{"filter": "datum.sex == 'Female' && datum.side == 'Ipsilateral'"}],
                      "layer": [
                        {"mark": {"type": "rule", "strokeWidth": 1.3},
                         "encoding": {"y": {"field": "lower", "type": "quantitative", "scale": {"domain": [-12.2, 25.1], "nice": false, "zero": false}, "axis": {"title": null, "values": [-10, 0, 10, 20], "labelExpr": "datum.value + ''"}}, "y2": {"field": "upper"}}},
                        {"mark": {"type": "bar", "width": {"band": 0.9375}, "strokeWidth": 1.1},
                         "encoding": {"y": {"field": "q1", "type": "quantitative", "scale": {"domain": [-12.2, 25.1], "nice": false, "zero": false}, "axis": {"title": null, "values": [-10, 0, 10, 20], "labelExpr": "datum.value + ''"}}, "y2": {"field": "q3"},
                          "fill": {"field": "group", "type": "nominal", "scale": {"domain": ["older adults", "young adults"], "range": ["#E41A1C", "#377EB8"]}, "legend": null}}},
                        {"mark": {"type": "bar", "width": {"band": 0.9375}, "fill": "transparent", "strokeWidth": 1.6},
                         "encoding": {"y": {"field": "median", "type": "quantitative", "scale": {"domain": [-12.2, 25.1], "nice": false, "zero": false}, "axis": {"title": null, "values": [-10, 0, 10, 20], "labelExpr": "datum.value + ''"}}, "y2": {"field": "median"}}}
                      ],
                      "encoding": {
                        "x": {"field": "group", "type": "nominal", "scale": {"domain": ["older adults", "young adults"], "paddingInner": 0.2, "paddingOuter": 0.2}, "axis": {"title": null, "labelFontWeight": "bold", "labelAngle": 0, "labelPadding": 10, "labelColor": "#000000"}},
                        "stroke": {"field": "group", "type": "nominal", "scale": {"domain": ["older adults", "young adults"], "range": ["#4D4D4D", "#999999"]}, "legend": null}
                      }
                    },
                    {
                      "data": {"name": "fi_older"},
                      "transform": [{"window": [{"op": "row_number", "as": "order"}]}],
                      "mark": {"type": "circle", "size": 55, "color": "#4D4D4D", "opacity": 1},
                      "encoding": {
                        "x": {"datum": "older adults", "type": "nominal", "scale": {"domain": ["older adults", "young adults"], "paddingInner": 0.2, "paddingOuter": 0.2}, "axis": {"title": null, "labelFontWeight": "bold", "labelAngle": 0, "labelPadding": 10, "labelColor": "#000000"}},
                        "xOffset": {"field": "order", "type": "quantitative", "scale": {"zero": false, "nice": false}},
                        "y": {"field": "bias", "type": "quantitative", "scale": {"domain": [-12.2, 25.1], "nice": false, "zero": false}, "axis": {"title": null, "values": [-10, 0, 10, 20], "labelExpr": "datum.value + ''"}}
                      }
                    },
                    {
                      "data": {"name": "fi_young"},
                      "transform": [{"window": [{"op": "row_number", "as": "order"}]}],
                      "mark": {"type": "circle", "size": 55, "fill": "#9A9A9A", "stroke": "#808080", "strokeWidth": 0.8, "opacity": 1},
                      "encoding": {
                        "x": {"datum": "young adults", "type": "nominal", "scale": {"domain": ["older adults", "young adults"], "paddingInner": 0.2, "paddingOuter": 0.2}, "axis": {"title": null, "labelFontWeight": "bold", "labelAngle": 0, "labelPadding": 10, "labelColor": "#000000"}},
                        "xOffset": {"field": "order", "type": "quantitative", "scale": {"zero": false, "nice": false}},
                        "y": {"field": "bias", "type": "quantitative", "scale": {"domain": [-12.2, 25.1], "nice": false, "zero": false}, "axis": {"title": null, "values": [-10, 0, 10, 20], "labelExpr": "datum.value + ''"}}
                      }
                    }
                  ],
                  "resolve": {"scale": {"xOffset": "independent"}}
                },
                {
                  "width": 476, "height": 395,
                  "layer": [
                    {
                      "data": {"name": "boxes"},
                      "transform": [{"filter": "datum.sex == 'Male' && datum.side == 'Ipsilateral'"}],
                      "layer": [
                        {"mark": {"type": "rule", "strokeWidth": 1.3},
                         "encoding": {"y": {"field": "lower", "type": "quantitative", "scale": {"domain": [-12.2, 25.1], "nice": false, "zero": false}, "axis": {"title": null, "values": [-10, 0, 10, 20], "labels": false, "ticks": false, "domain": false}}, "y2": {"field": "upper"}}},
                        {"mark": {"type": "bar", "width": {"band": 0.9375}, "strokeWidth": 1.1},
                         "encoding": {"y": {"field": "q1", "type": "quantitative", "scale": {"domain": [-12.2, 25.1], "nice": false, "zero": false}, "axis": {"title": null, "values": [-10, 0, 10, 20], "labels": false, "ticks": false, "domain": false}}, "y2": {"field": "q3"},
                          "fill": {"field": "group", "type": "nominal", "scale": {"domain": ["older adults", "young adults"], "range": ["#E41A1C", "#377EB8"]}, "legend": null}}},
                        {"mark": {"type": "bar", "width": {"band": 0.9375}, "fill": "transparent", "strokeWidth": 1.6},
                         "encoding": {"y": {"field": "median", "type": "quantitative", "scale": {"domain": [-12.2, 25.1], "nice": false, "zero": false}, "axis": {"title": null, "values": [-10, 0, 10, 20], "labels": false, "ticks": false, "domain": false}}, "y2": {"field": "median"}}}
                      ],
                      "encoding": {
                        "x": {"field": "group", "type": "nominal", "scale": {"domain": ["older adults", "young adults"], "paddingInner": 0.2, "paddingOuter": 0.2}, "axis": {"title": null, "labelFontWeight": "bold", "labelAngle": 0, "labelPadding": 10, "labelColor": "#000000"}},
                        "stroke": {"field": "group", "type": "nominal", "scale": {"domain": ["older adults", "young adults"], "range": ["#4D4D4D", "#999999"]}, "legend": null}
                      }
                    },
                    {
                      "data": {"name": "mi_older"},
                      "transform": [{"window": [{"op": "row_number", "as": "order"}]}],
                      "mark": {"type": "circle", "size": 55, "color": "#4D4D4D", "opacity": 1},
                      "encoding": {
                        "x": {"datum": "older adults", "type": "nominal", "scale": {"domain": ["older adults", "young adults"], "paddingInner": 0.2, "paddingOuter": 0.2}, "axis": {"title": null, "labelFontWeight": "bold", "labelAngle": 0, "labelPadding": 10, "labelColor": "#000000"}},
                        "xOffset": {"field": "order", "type": "quantitative", "scale": {"zero": false, "nice": false}},
                        "y": {"field": "bias", "type": "quantitative", "scale": {"domain": [-12.2, 25.1], "nice": false, "zero": false}, "axis": {"title": null, "values": [-10, 0, 10, 20], "labels": false, "ticks": false, "domain": false}}
                      }
                    },
                    {
                      "data": {"name": "mi_young"},
                      "transform": [{"window": [{"op": "row_number", "as": "order"}]}],
                      "mark": {"type": "circle", "size": 55, "fill": "#9A9A9A", "stroke": "#808080", "strokeWidth": 0.8, "opacity": 1},
                      "encoding": {
                        "x": {"datum": "young adults", "type": "nominal", "scale": {"domain": ["older adults", "young adults"], "paddingInner": 0.2, "paddingOuter": 0.2}, "axis": {"title": null, "labelFontWeight": "bold", "labelAngle": 0, "labelPadding": 10, "labelColor": "#000000"}},
                        "xOffset": {"field": "order", "type": "quantitative", "scale": {"zero": false, "nice": false}},
                        "y": {"field": "bias", "type": "quantitative", "scale": {"domain": [-12.2, 25.1], "nice": false, "zero": false}, "axis": {"title": null, "values": [-10, 0, 10, 20], "labels": false, "ticks": false, "domain": false}}
                      }
                    }
                  ],
                  "resolve": {"scale": {"xOffset": "independent"}}
                }
              ],
              "columns": 2,
              "spacing": {"row": 16, "column": 14},
              "bounds": "flush",
              "resolve": {"scale": {"xOffset": "independent"}}
            },
            {
              "vconcat": [
                {
                  "width": 42, "height": 395,
                  "view": {"fill": "#CCCCCC", "stroke": null},
                  "data": {"values": [{"label": "Contralateral"}]},
                  "mark": {"type": "text", "fontSize": 22, "angle": 90, "color": "#1A1A1A"},
                  "encoding": {"text": {"field": "label", "type": "nominal"}}
                },
                {
                  "width": 42, "height": 395,
                  "view": {"fill": "#CCCCCC", "stroke": null},
                  "data": {"values": [{"label": "Ipsilateral"}]},
                  "mark": {"type": "text", "fontSize": 22, "angle": 90, "color": "#1A1A1A"},
                  "encoding": {"text": {"field": "label", "type": "nominal"}}
                }
              ],
              "spacing": 16
            }
          ],
          "spacing": 2,
          "resolve": {"scale": {"xOffset": "independent"}}
        },
        {
          "width": 18, "height": 805,
          "data": {"values": [{"group": "older adults"}, {"group": "young adults"}]},
          "encoding": {
            "y": {"field": "group", "type": "nominal", "scale": {"domain": ["older adults", "young adults"], "range": [393, 445], "paddingInner": 0, "paddingOuter": 0}, "axis": null}
          },
          "layer": [
            {
              "mark": {"type": "square", "size": 300, "opacity": 1, "filled": true, "strokeWidth": 1},
              "encoding": {
                "fill": {"field": "group", "type": "nominal", "scale": {"domain": ["older adults", "young adults"], "range": ["#E41A1C", "#377EB8"]}, "legend": null},
                "stroke": {"field": "group", "type": "nominal", "scale": {"domain": ["older adults", "young adults"], "range": ["#4D4D4D", "#999999"]}, "legend": null}
              }
            },
            {
              "mark": {"type": "text", "align": "left", "dx": 16, "fontSize": 22, "fontWeight": "bold", "color": "#000000"},
              "encoding": {"text": {"field": "group", "type": "nominal"}}
            }
          ]
        }
      ],
      "spacing": 24,
      "resolve": {"scale": {"xOffset": "independent"}}
    }
  ],
  "spacing": 1,
  "resolve": {"scale": {"xOffset": "independent"}},
  "config": {
    "font": "Liberation Sans",
    "view": {"stroke": null},
    "axis": {
      "labelFont": "Liberation Sans",
      "labelFontSize": 22,
      "labelColor": "#1A1A1A",
      "tickColor": "#1A1A1A",
      "tickSize": 5,
      "tickWidth": 1.3,
      "domainColor": "#1A1A1A",
      "domainWidth": 1.3,
      "gridColor": "#EBEBEB",
      "gridWidth": 1.3,
      "labelPadding": 4,
      "titleFont": "Liberation Sans"
    },
    "axisX": {"grid": false},
    "axisY": {"grid": true},
    "title": {"font": "Liberation Sans"}
  }
}
